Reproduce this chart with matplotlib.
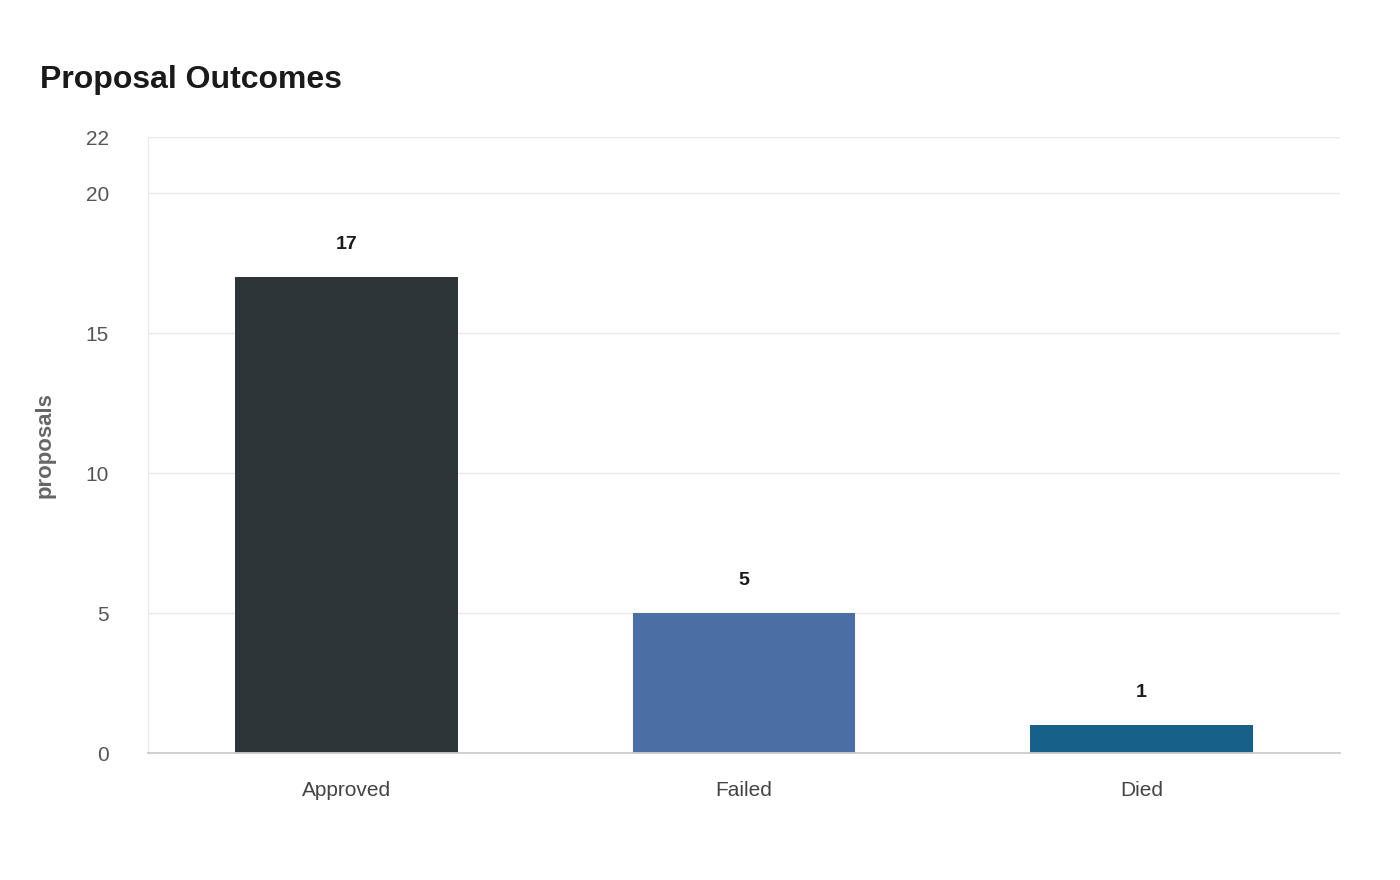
import matplotlib
matplotlib.use("Agg")
import matplotlib.pyplot as plt

plt.rcParams["font.family"] = ["Liberation Sans", "DejaVu Sans"]

categories = ["Approved", "Failed", "Died"]
counts = [17, 5, 1]
colors = ["#2d3538", "#4a6fa5", "#17608a"]
yticks = [0, 5, 10, 15, 20, 22]

fig = plt.figure(figsize=(14, 8.8), dpi=100)
ax = fig.add_axes([0.1057, 0.1443, 0.8514, 0.70])
ax.set_axisbelow(True)
ax.yaxis.grid(True, color="#e8e8e8", linewidth=1)

x = range(len(categories))
bars = ax.bar(x, counts, width=0.56, color=colors)
for b, v in zip(bars, counts):
    ax.annotate(f"{v}", (b.get_x() + b.get_width() / 2, v), textcoords="offset points",
                xytext=(0, 17), ha="center", va="bottom", fontsize=14,
                fontweight="bold", color="#1a1a1a")

ax.set_xlim(-0.5, 2.5)
ax.set_ylim(0, 22)
ax.set_yticks(yticks)
ax.set_xticks(list(x))
ax.set_xticklabels(categories)
ax.tick_params(axis="x", length=0, pad=20, labelsize=15, labelcolor="#444444")
ax.tick_params(axis="y", length=0, pad=28, labelsize=15, labelcolor="#555555")
ax.set_ylabel("proposals", fontsize=16, fontweight="bold", color="#666666", labelpad=22)

for sp in ("top", "right"):
    ax.spines[sp].set_visible(False)
ax.spines["left"].set_color("#e8e8e8")
ax.spines["bottom"].set_color("#cccccc")
ax.spines["bottom"].set_linewidth(1.3)

fig.text(40 / 1400, 1 - 80 / 880, "Proposal Outcomes", fontsize=23, fontweight="bold",
         color="#1a1a1a", ha="left", va="center")

fig.savefig("out.png", dpi=100)
